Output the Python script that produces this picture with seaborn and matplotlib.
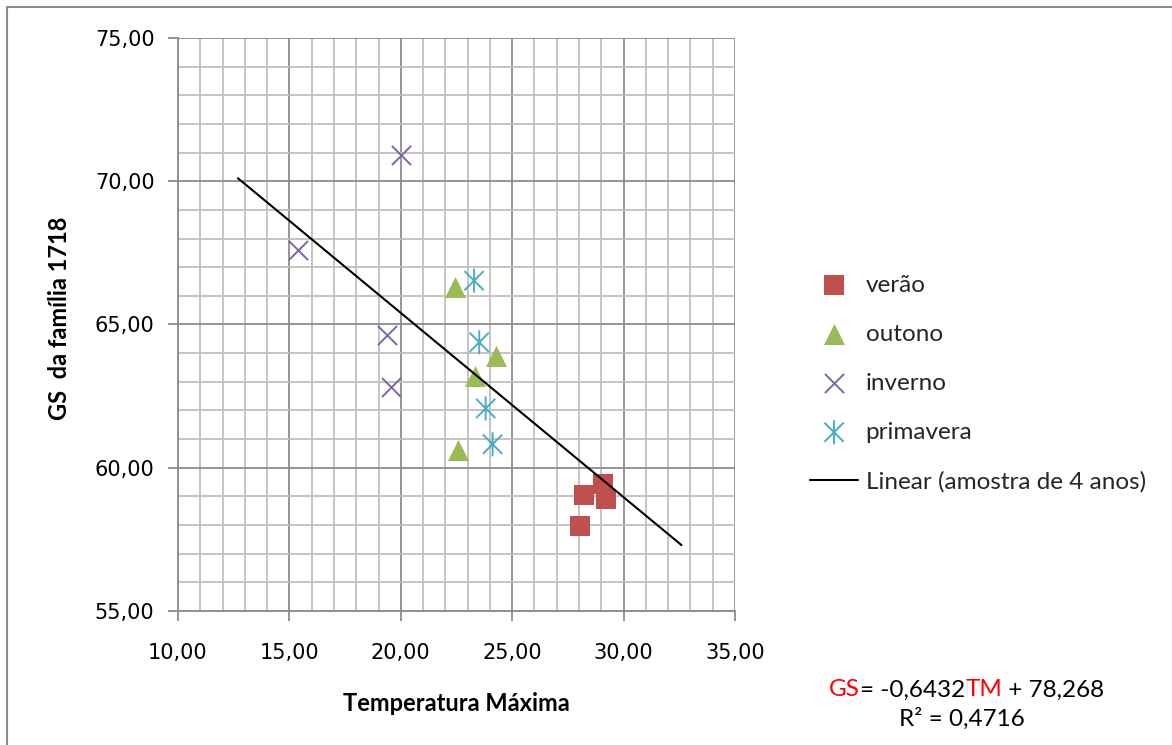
import seaborn as sns
import matplotlib.pyplot as plt
import numpy as np
from matplotlib.path import Path
from matplotlib.lines import Line2D
from matplotlib.ticker import MultipleLocator, FuncFormatter

sns.set_theme(style="white")
plt.rcParams["font.family"] = ["Lato", "DejaVu Sans"]

# dados
verao_tm = [29.06, 28.22, 29.21, 28.04]
verao_gs = [59.43, 59.04, 58.90, 57.97]
outono_tm = [22.43, 24.26, 23.33, 22.58]
outono_gs = [66.30, 63.90, 63.20, 60.62]
inverno_tm = [20.00, 15.40, 19.37, 19.56]
inverno_gs = [70.90, 67.60, 64.63, 62.81]
primavera_tm = [23.29, 23.52, 23.81, 24.12]
primavera_gs = [66.53, 64.38, 62.07, 60.82]

# linha de tendencia (Excel)
slope, intercept = -0.6432, 78.268
trend_tm = [12.69, 32.60]

# marcador asterisco estilo Excel
star = Path([(-1, -1), (1, 1), (-1, 1), (1, -1), (0, -1.25), (0, 1.25)],
            [Path.MOVETO, Path.LINETO, Path.MOVETO, Path.LINETO, Path.MOVETO, Path.LINETO])

FS = 17.5

fig = plt.figure(figsize=(11.72, 7.45), dpi=100)
ax = fig.add_axes([178 / 1172, 1 - 611 / 745, (735 - 178) / 1172, (611 - 38) / 745])

sns.scatterplot(x=verao_tm, y=verao_gs, marker="s", color="#C0504D", s=190,
                linewidth=0, label="verão", ax=ax, zorder=3)
sns.scatterplot(x=outono_tm, y=outono_gs, marker="^", color="#9BBB59", s=230,
                linewidth=0, label="outono", ax=ax, zorder=3)
sns.scatterplot(x=inverno_tm, y=inverno_gs, marker="x", color="#8064A2", s=190,
                linewidth=1.4, label="inverno", ax=ax, zorder=3)
sns.scatterplot(x=primavera_tm, y=primavera_gs, marker=star, facecolor="none",
                edgecolor="#4BACC6", s=300, linewidth=1.4, label="primavera",
                ax=ax, zorder=3)

tx = np.array(trend_tm)
sns.lineplot(x=tx, y=slope * tx + intercept, color="black", linewidth=1.5,
             label="Linear (amostra de 4 anos)", ax=ax, zorder=4)

ax.set_xlim(10, 35)
ax.set_ylim(55, 75)
ax.xaxis.set_major_locator(MultipleLocator(5))
ax.yaxis.set_major_locator(MultipleLocator(5))
ax.xaxis.set_minor_locator(MultipleLocator(1))
ax.yaxis.set_minor_locator(MultipleLocator(1))
fmt = FuncFormatter(lambda v, p: f"{v:.2f}".replace(".", ","))
ax.xaxis.set_major_formatter(fmt)
ax.yaxis.set_major_formatter(fmt)
ax.grid(which="major", color="#8c8c8c", linewidth=1.3)
ax.grid(which="minor", color="#bfbfbf", linewidth=1.3)
ax.set_axisbelow(True)
for side in ["top", "right"]:
    ax.spines[side].set_visible(False)
for side in ["left", "bottom"]:
    ax.spines[side].set_color("#8c8c8c")
    ax.spines[side].set_linewidth(1.3)
ax.tick_params(which="major", length=7, width=1.3, color="#8c8c8c", direction="out",
               bottom=True, left=True)
ax.tick_params(which="minor", length=0)
ax.tick_params(axis="x", pad=16)
ax.tick_params(axis="y", pad=10)
for lab in ax.get_xticklabels() + ax.get_yticklabels():
    lab.set_family("DejaVu Sans")
    lab.set_fontsize(15)
    lab.set_color("black")

ax.set_xlabel("Temperatura Máxima", fontsize=17, fontweight="bold", color="black")
ax.set_ylabel("GS  da família 1718", fontsize=17, fontweight="bold", color="black")
ax.xaxis.set_label_coords(0.5, (611 - 692) / 573)
ax.yaxis.set_label_coords((71 - 178) / 557, 0.51)

handles, labels = ax.get_legend_handles_labels()
ax.get_legend().remove()
fig.legend(handles, labels, loc="upper left", bbox_to_anchor=(800 / 1172, 1 - 265 / 745),
           frameon=False, fontsize=FS, labelspacing=1.15, handlelength=2.0,
           handletextpad=0.3, borderaxespad=0)

eq_y = 1 - 690 / 745
t1 = fig.text(829 / 1172, eq_y, "GS", color="red", fontsize=FS, va="center")
fig.canvas.draw()
r = fig.canvas.get_renderer()
def after(t):
    bb = t.get_window_extent(r)
    return bb.x1 / fig.bbox.width
t2 = fig.text(after(t1), eq_y, "= -0,6432", color="black", fontsize=FS, va="center")
t3 = fig.text(after(t2), eq_y, "TM", color="red", fontsize=FS, va="center")
t4 = fig.text(after(t3), eq_y, " + 78,268", color="black", fontsize=FS, va="center")
fig.text(962 / 1172, 1 - 719 / 745, "R² = 0,4716", color="black", fontsize=FS,
         ha="center", va="center")

# moldura do grafico
fig.add_artist(Line2D([7 / 1172, 7 / 1172], [0, 1 - 7 / 745], color="#8c8c8c", linewidth=1.5))
fig.add_artist(Line2D([7 / 1172, 1], [1 - 7 / 745, 1 - 7 / 745], color="#8c8c8c", linewidth=1.5))

plt.savefig("out.png", dpi=100)
